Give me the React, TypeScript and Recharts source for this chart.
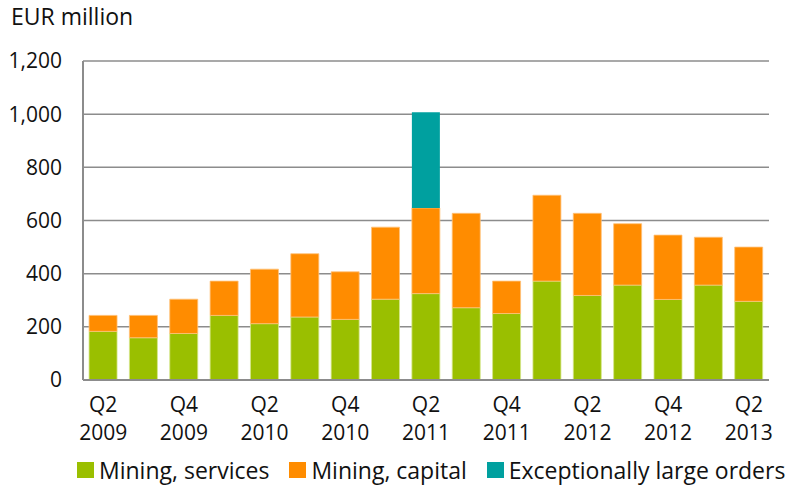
import React from "react";
import { BarChart, Bar, XAxis, YAxis, CartesianGrid, Legend } from "recharts";

const quarters = [
  "Q2 2009", "Q3 2009", "Q4 2009", "Q1 2010", "Q2 2010", "Q3 2010",
  "Q4 2010", "Q1 2011", "Q2 2011", "Q3 2011", "Q4 2011", "Q1 2012",
  "Q2 2012", "Q3 2012", "Q4 2012", "Q1 2013", "Q2 2013",
];
const miningServices = [183, 159, 175, 243, 212, 237, 228, 304, 325, 272, 250, 372, 318, 357, 303, 357, 296];
const miningCapital = [60, 84, 129, 129, 205, 238, 179, 271, 322, 355, 122, 323, 309, 231, 242, 180, 204];
const largeOrders = [null, null, null, null, null, null, null, null, 360, null, null, null, null, null, null, null, null];
const yTicks = [0, 200, 400, 600, 800, 1000, 1200];

const seriesNames = ["Mining, services", "Mining, capital", "Exceptionally large orders"];
const seriesColors = ["#9abf00", "#ff8c00", "#00a09f"];

const data = quarters.map((q, i) => ({
  quarter: q,
  services: miningServices[i],
  capital: miningCapital[i],
  large: largeOrders[i],
}));

const FONT = "'Open Sans', sans-serif";

function QuarterTick({ x, y, payload }: any) {
  const [q, yr] = String(payload.value).split(" ");
  return (
    <g transform={`translate(${x},${y})`}>
      <text textAnchor="middle" fontSize={21} fill="#111" fontFamily={FONT}>
        <tspan x={0} dy={32}>{q}</tspan>
        <tspan x={0} dy={28}>{yr}</tspan>
      </text>
    </g>
  );
}

function LegendBox() {
  return (
    <div
      style={{
        display: "flex",
        flexWrap: "nowrap",
        whiteSpace: "nowrap",
        alignItems: "center",
        paddingLeft: 77,
        height: 30,
        fontFamily: FONT,
        fontSize: 23,
        lineHeight: "30px",
        color: "#111",
      }}
    >
      {seriesNames.map((name, i) => (
        <div key={name} style={{ display: "flex", alignItems: "center", marginLeft: i === 0 ? 0 : 20, flexShrink: 0 }}>
          <span style={{ width: 17, height: 16, background: seriesColors[i], display: "inline-block", marginRight: 5 }} />
          <span>{name}</span>
        </div>
      ))}
    </div>
  );
}

export default function App() {
  return (
    <div style={{ position: "absolute", left: 0, top: 0, width: 797, height: 485, background: "#fff", overflow: "hidden" }}>
      <div style={{ position: "absolute", left: 11, top: 5, fontFamily: FONT, fontSize: 23, lineHeight: "23px", color: "#111" }}>
        EUR million
      </div>
      <BarChart
        width={797}
        height={485}
        data={data}
        margin={{ top: 61, right: 28, left: 0, bottom: 0 }}
        barCategoryGap="15%"
      >
        <CartesianGrid vertical={false} stroke="#8c8c8c" strokeWidth={1.5} />
        <XAxis
          dataKey="quarter"
          interval={1}
          tick={<QuarterTick />}
          tickLine={false}
          tickSize={0}
          tickMargin={0}
          height={75}
          axisLine={{ stroke: "#8c8c8c", strokeWidth: 2 }}
        />
        <YAxis
          width={83}
          domain={[0, 1200]}
          ticks={yTicks}
          interval={0}
          tickLine={false}
          tickSize={0}
          tickMargin={21}
          tickFormatter={(v: number) => v.toLocaleString("en-US")}
          tick={{ fontSize: 21, fill: "#111", fontFamily: FONT }}
          axisLine={{ stroke: "#8c8c8c", strokeWidth: 2 }}
        />
        <Legend
          verticalAlign="bottom"
          content={<LegendBox />}
          wrapperStyle={{ left: 0, top: 455, width: 797, height: 30, overflow: "visible" }}
        />
        <Bar dataKey="services" name={seriesNames[0]} stackId="a" fill={seriesColors[0]} stroke="#d6e68a" strokeWidth={0.8} isAnimationActive={false} />
        <Bar dataKey="capital" name={seriesNames[1]} stackId="a" fill={seriesColors[1]} stroke="#ffc27a" strokeWidth={0.8} isAnimationActive={false} />
        <Bar dataKey="large" name={seriesNames[2]} stackId="a" fill={seriesColors[2]} isAnimationActive={false} />
      </BarChart>
    </div>
  );
}
